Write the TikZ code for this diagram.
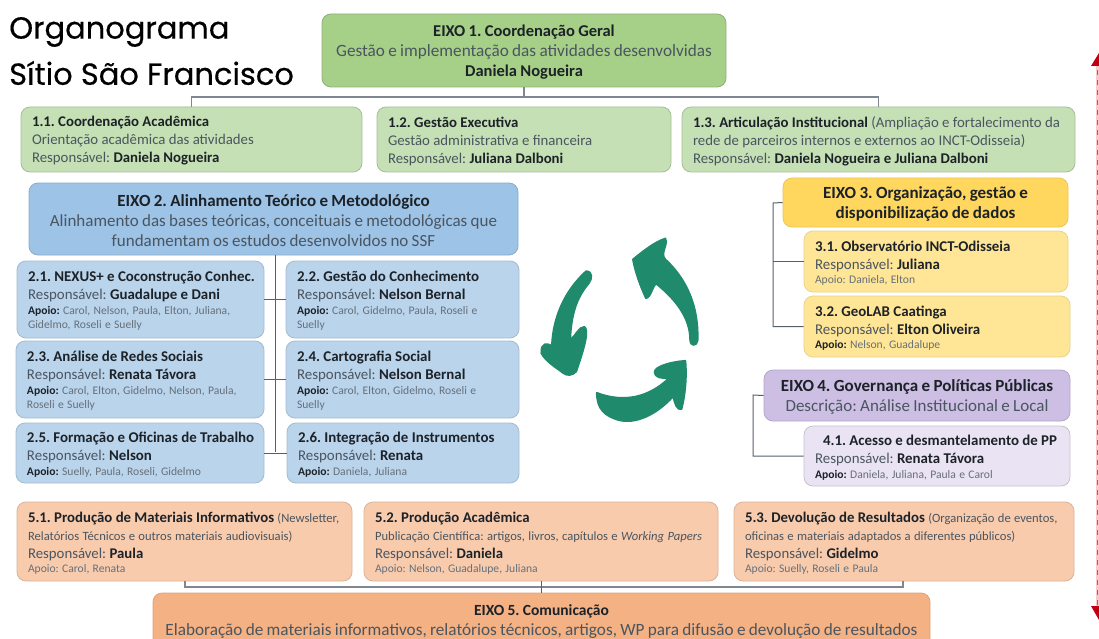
\documentclass[tikz,border=0pt]{standalone}
\usepackage{fontspec}
\setmainfont{Carlito}
\newfontfamily\titlefont[FakeBold=0.35]{Poppins}
\definecolor{txtmain}{HTML}{4A5560}
\definecolor{txtbold}{HTML}{1C2228}
\definecolor{txtsmall}{HTML}{66707A}
\definecolor{linecol}{HTML}{55606A}
\definecolor{linelight}{HTML}{7F8890}
\definecolor{recyc}{HTML}{1F8A6C}
\definecolor{redarrow}{HTML}{C00010}
\definecolor{redpale}{HTML}{FBC9CC}
\newcommand\bb[1]{\textbf{\textcolor{txtbold}{#1}}}
\newcommand\lineT[1]{{\fontsize{14.8}{18}\selectfont\color{txtmain}\mbox{#1}\par}}
\newcommand\lineM[1]{{\fontsize{14.9}{18}\selectfont\color{txtmain}\mbox{#1}\par}}
\newcommand\lineS[1]{{\fontsize{11.6}{14.5}\selectfont\color{txtsmall}\mbox{#1}\par}}
\newcommand\lineE[1]{{\fontsize{17.2}{20}\selectfont\color{txtmain}\mbox{#1}\par}}
\newcommand\lineH[1]{{\fontsize{17}{20}\selectfont\color{txtmain}\mbox{#1}\par}}
\newcommand\smallpar{\fontsize{12.6}{18}\selectfont}
% name, x1, y1, x2, y2, style, text
\newcommand\orgbox[7]{%
  \pgfmathsetlengthmacro\orgw{(#4-#2)*1pt}%
  \pgfmathsetlengthmacro\orgh{(#5-#3)*1pt}%
  \pgfmathsetlengthmacro\orgt{(#4-#2-22)*1pt}%
  \node[orgnode,#6,minimum width=\orgw,minimum height=\orgh]
    (#1) at ({(#2+#4)/2},{(#3+#5)/2}) {};
  \node[orgnode,#6,draw=none,fill=none,text width=\orgt,yshift=-1.5pt]
    (#1text) at (#1.center) {\frenchspacing #7};}
\tikzset{
  orgnode/.style={draw,rounded corners=9pt,inner sep=0pt,line width=0.8pt,align=left},
  centred/.style={align=center},
  greenhead/.style={fill=green1,draw=green1!85!black,centred},
  greenbox/.style={fill=green2,draw=green2!85!black},
  bluehead/.style={fill=blue1,draw=blue1!88!black,centred},
  bluebox/.style={fill=blue2,draw=blue2!88!black},
  yellowhead/.style={fill=yellow1,draw=yellow1!92!black,centred},
  yellowbox/.style={fill=yellow2,draw=yellow2!92!black},
  purplehead/.style={fill=purple1,draw=purple1!88!black,centred},
  purplebox/.style={fill=purple2,draw=purple2!85!black},
  orangehead/.style={fill=orange1,draw=orange1!92!black,centred},
  orangebox/.style={fill=orange2,draw=orange2!88!black},
  conn/.style={draw=linecol,line width=1pt},
  connlight/.style={draw=linelight,line width=1.2pt},
  recycle/.style={fill=recyc,draw=recyc,line width=1.5pt,line join=round},
}
\definecolor{green1}{HTML}{A6CF88}
\definecolor{green2}{HTML}{C5E0B4}
\definecolor{blue1}{HTML}{9DC3E6}
\definecolor{blue2}{HTML}{BAD4EC}
\definecolor{yellow1}{HTML}{FFD75F}
\definecolor{yellow2}{HTML}{FFE596}
\definecolor{purple1}{HTML}{CDBEE4}
\definecolor{purple2}{HTML}{EAE3F3}
\definecolor{orange1}{HTML}{F4B183}
\definecolor{orange2}{HTML}{F8CBAD}
\begin{document}
\begin{tikzpicture}[x=1pt,y=-1pt]
\useasboundingbox (0,0) rectangle (1099,639);
\clip (0,0) rectangle (1099,639);
\fill[white] (0,0) rectangle (1099,639);

% title
\node[anchor=west,inner sep=0pt,text=black] (title1) at (9,32) {\titlefont\fontsize{30.5}{34}\selectfont Organograma};
\node[anchor=west,inner sep=0pt,text=black] (title2) at (9,73) {\titlefont\fontsize{30.5}{34}\selectfont Sítio São Francisco};

% Eixo 1
\orgbox{e1}{322}{14}{726}{87}{greenhead}{%
  \lineE{\bb{\fontsize{16.5}{20}\selectfont EIXO 1. Coordenação Geral}}%
  \lineE{Gestão e implementação das atividades desenvolvidas}%
  \lineE{\bb{\fontsize{16.5}{20}\selectfont Daniela Nogueira}}}
\orgbox{b11}{21}{107}{362}{172}{greenbox}{%
  \lineT{\bb{1.1. Coordenação Acadêmica}}%
  \lineT{Orientação acadêmica das atividades}%
  \lineT{Responsável: \bb{Daniela Nogueira}}}
\orgbox{b12}{377}{107}{671}{172}{greenbox}{%
  \lineT{\bb{1.2. Gestão Executiva}}%
  \lineT{Gestão administrativa e financeira}%
  \lineT{Responsável: \bb{Juliana Dalboni}}}
\orgbox{b13}{682}{107}{1075}{172}{greenbox}{%
  \lineT{\bb{1.3. Articulação Institucional} (Ampliação e fortalecimento da}%
  \lineT{rede de parceiros internos e externos ao INCT-Odisseia)}%
  \lineT{Responsável: \bb{Daniela Nogueira e Juliana Dalboni}}}

% Eixo 2
\orgbox{e2}{29}{183}{518}{255}{bluehead}{%
  \lineH{\bb{EIXO 2. Alinhamento Teórico e Metodológico}}%
  \lineH{Alinhamento das bases teóricas, conceituais e metodológicas que}%
  \lineH{fundamentam os estudos desenvolvidos no SSF}}
\orgbox{b21}{17}{261}{264}{338}{bluebox}{%
  \lineM{\bb{2.1. NEXUS+ e Coconstrução Conhec.}}%
  \lineM{Responsável: \bb{Guadalupe e Dani}}%
  \lineS{\bb{Apoio:} Carol, Nelson, Paula, Elton, Juliana,}%
  \lineS{Gidelmo, Roseli e Suelly}}
\orgbox{b22}{286}{261}{519}{338}{bluebox}{%
  \lineM{\bb{2.2. Gestão do Conhecimento}}%
  \lineM{Responsável: \bb{Nelson Bernal}}%
  \lineS{\bb{Apoio:} Carol, Gidelmo, Paula, Roseli e}%
  \lineS{Suelly}}
\orgbox{b23}{16}{341}{264}{418}{bluebox}{%
  \lineM{\bb{2.3. Análise de Redes Sociais}}%
  \lineM{Responsável: \bb{Renata Távora}}%
  \lineS{\bb{Apoio:} Carol, Elton, Gidelmo, Nelson, Paula,}%
  \lineS{Roseli e Suelly}}
\orgbox{b24}{286}{341}{519}{418}{bluebox}{%
  \lineM{\bb{2.4. Cartografia Social}}%
  \lineM{Responsável: \bb{Nelson Bernal}}%
  \lineS{\bb{Apoio:} Carol, Elton, Gidelmo, Roseli e}%
  \lineS{Suelly}}
\orgbox{b25}{16}{423}{264}{483}{bluebox}{%
  \lineM{\bb{2.5. Formação e Oficinas de Trabalho}}%
  \lineM{Responsável: \bb{Nelson}}%
  \lineS{\bb{Apoio:} Suelly, Paula, Roseli, Gidelmo}}
\orgbox{b26}{287}{423}{519}{483}{bluebox}{%
  \lineM{\bb{2.6. Integração de Instrumentos}}%
  \lineM{Responsável: \bb{Renata}}%
  \lineS{\bb{Apoio:} Daniela, Juliana}}

% Eixo 3
\orgbox{e3}{783}{178}{1068}{227}{yellowhead}{%
  \lineH{\bb{EIXO 3. Organização, gestão e}}%
  \lineH{\bb{disponibilização de dados}}}
\orgbox{b31}{804}{231}{1068}{292}{yellowbox}{%
  \lineM{\bb{3.1. Observatório INCT-Odisseia}}%
  \lineM{Responsável: \bb{Juliana}}%
  \lineS{Apoio: Daniela, Elton}}
\orgbox{b32}{804}{296}{1070}{357}{yellowbox}{%
  \lineM{\bb{3.2. GeoLAB Caatinga}}%
  \lineM{Responsável: \bb{Elton Oliveira}}%
  \lineS{\bb{Apoio:} Nelson, Guadalupe}}

% Eixo 4
\orgbox{e4}{764}{370}{1070}{421}{purplehead}{%
  \lineH{\bb{EIXO 4. Governança e Políticas Públicas}}%
  \lineH{Descrição: Análise Institucional e Local}}
\orgbox{b41}{804}{426}{1070}{486}{purplebox}{%
  \lineM{\hspace*{8pt}\bb{4.1. Acesso e desmantelamento de PP}}%
  \lineM{Responsável: \bb{Renata Távora}}%
  \lineS{\bb{Apoio:} Daniela, Juliana, Paula e Carol}}

% Eixo 5
\orgbox{b51}{17}{502}{352}{581}{orangebox}{%
  \lineT{\bb{5.1. Produção de Materiais Informativos} {\smallpar (Newsletter,}}%
  \lineT{\smallpar Relatórios Técnicos e outros materiais audiovisuais)}%
  \lineT{Responsável: \bb{Paula}}%
  \lineS{Apoio: Carol, Renata}}
\orgbox{b52}{364}{502}{718}{581}{orangebox}{%
  \lineT{\bb{5.2. Produção Acadêmica}}%
  \lineT{\smallpar Publicação Científica: artigos, livros, capítulos e \textit{Working Papers}}%
  \lineT{Responsável: \bb{Daniela}}%
  \lineS{Apoio: Nelson, Guadalupe, Juliana}}
\orgbox{b53}{734}{502}{1074}{581}{orangebox}{%
  \lineT{\bb{5.3. Devolução de Resultados} {\smallpar (Organização de eventos,}}%
  \lineT{\smallpar oficinas e materiais adaptados a diferentes públicos)}%
  \lineT{Responsável: \bb{Gidelmo}}%
  \lineS{Apoio: Suelly, Roseli e Paula}}
\orgbox{e5}{153}{593}{930}{647}{orangehead}{%
  \lineE{\bb{\fontsize{15.5}{20}\selectfont EIXO 5. Comunicação}}%
  \lineE{Elaboração de materiais informativos, relatórios técnicos, artigos, WP para difusão e devolução de resultados}}

% connectors
\coordinate (j1) at (e1.south |- 0,97);
\draw[connlight] (e1.south) -- (j1);
\draw[connlight] (b11.north) |- (j1);
\draw[connlight] (b13.north) |- (j1);

\coordinate (t2) at (275,452);
\draw[conn] (e2.south -| t2) -- (t2);
\draw[conn] (b21.east) -- (b22.west);
\draw[conn] (b23.east) -- (b24.west);
\draw[conn] (b25.east) -- (b26.west);

\coordinate (t3) at (773,203);
\draw[conn] (e3.west) -- (t3) |- (b32.west);
\draw[conn] (t3 |- b31.west) -- (b31.west);

\coordinate (t4) at (753,395);
\draw[conn] (e4.west) -- (t4) |- (b41.west);

\coordinate (j5) at (e5.north |- 0,587);
\draw[connlight] (b51.south -| 185,0) |- (j5);
\draw[connlight] (b53.south -| 903,0) |- (j5);
\draw[conn] (b52.south -| e5.north) -- (e5.north);

% recycle arrows (reference coordinates: x=530+X/2.85, y=170+Y/3)
\begin{scope}[shift={(530,170)},x=0.3509pt,y=-0.3333pt]
\filldraw[recycle]
  (386,268) .. controls (440,320) and (482,400) .. (478,512)
  .. controls (476,530) and (456,530) .. (456,510)
  .. controls (456,440) and (410,385) .. (360,342)
  .. controls (350,345) and (345,385) .. (330,385)
  .. controls (315,350) and (300,310) .. (293,268)
  .. controls (320,245) and (355,215) .. (386,205)
  .. controls (395,225) and (370,250) .. (386,268) -- cycle;
\filldraw[recycle]
  (160,303) .. controls (180,305) and (178,325) .. (168,340)
  .. controls (140,375) and (118,420) .. (115,510)
  .. controls (130,495) and (140,470) .. (155,470)
  .. controls (168,480) and (160,520) .. (132,605)
  .. controls (120,618) and (105,618) .. (95,610)
  .. controls (70,590) and (45,575) .. (32,550)
  .. controls (30,515) and (50,520) .. (62,527)
  .. controls (65,440) and (100,360) .. (160,303) -- cycle;
\filldraw[recycle]
  (190,668) .. controls (270,700) and (340,680) .. (395,625)
  .. controls (375,625) and (355,625) .. (355,605)
  .. controls (355,590) and (400,575) .. (443,572)
  .. controls (448,620) and (442,680) .. (432,718)
  .. controls (418,722) and (412,700) .. (408,680)
  .. controls (360,735) and (300,765) .. (250,750)
  .. controls (215,738) and (190,720) .. (190,668) -- cycle;
\end{scope}

% red double arrow at the right edge
\coordinate (rtop) at (1099,53);
\coordinate (rbot) at (1099,620);
\coordinate (ltop) at (1097.5,60);
\coordinate (lbot) at (1097.5,610);
\draw[redpale,line width=2.5pt] (ltop) -- (lbot);
\draw[redarrow!70,line width=1.4pt,dash pattern=on 5pt off 5pt] (ltop) -- (lbot);
\fill[redarrow] (rtop) -- ++(-8,13) -- ++(16,0) -- cycle;
\fill[redarrow] (rbot) -- ++(-8,-14) -- ++(16,0) -- cycle;
\end{tikzpicture}
\end{document}
